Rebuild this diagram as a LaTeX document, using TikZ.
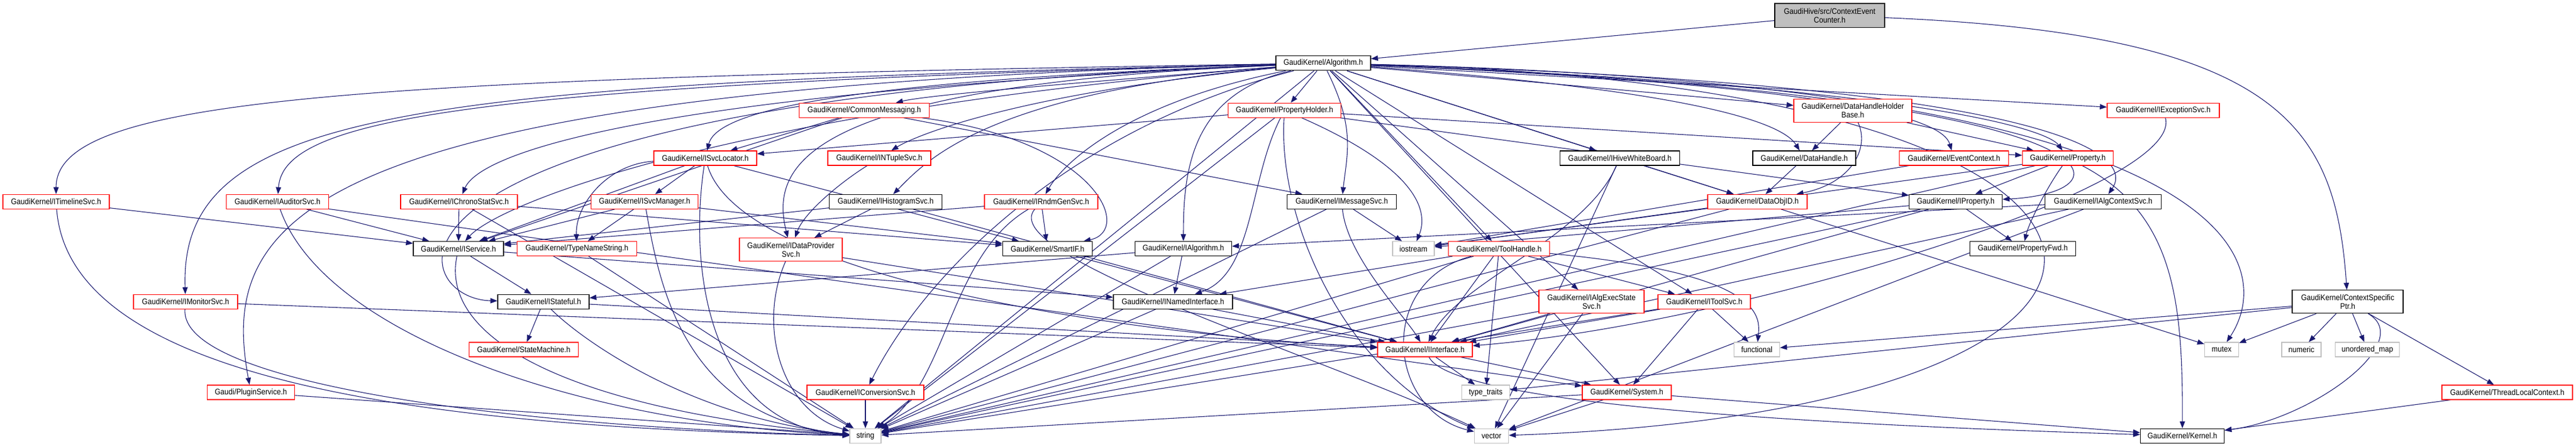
\documentclass[tikz,border=0pt]{standalone}
\usepackage{fontspec}
\setmainfont{Liberation Sans}[FakeStretch=0.9]
\usetikzlibrary{arrows.meta, backgrounds}

\begin{document}
\begin{tikzpicture}[x=1pt, y=1.478pt]

\definecolor{edgecolor}{rgb}{0.1, 0.1, 0.44}
\definecolor{truncred}{rgb}{1, 0, 0}
\definecolor{stdgray}{rgb}{0.75, 0.75, 0.75}

\tikzstyle{hdr} = [rectangle, draw=black, line width=1.2pt, fill=white, minimum height=25pt, inner xsep=2pt, inner ysep=1pt, align=center, font=\fontsize{14}{15}\selectfont]
\tikzstyle{trunc} = [hdr, draw=truncred]
\tikzstyle{stdhdr} = [hdr, draw=stdgray]
\tikzstyle{rootnode} = [hdr, fill=stdgray, minimum height=41pt]
\tikzstyle{twoline} = [minimum height=40pt]
\tikzstyle{arrow} = [-{Triangle[length=12pt, width=9pt]}, line width=1.1pt, draw=edgecolor]

\useasboundingbox (0,0) rectangle (4456,-523);

\node[rootnode, minimum width=190pt] (root) at (3165,-18) {GaudiHive/src/ContextEvent\\Counter.h};
\node[hdr, minimum width=164pt] (alg) at (2289,-74) {GaudiKernel/Algorithm.h};
\node[hdr, twoline, minimum width=192pt] (ctxptr) at (4061,-353) {GaudiKernel/ContextSpecific\\Ptr.h};

\node[trunc, minimum width=225pt] (cmsg) at (1495,-129) {GaudiKernel/CommonMessaging.h};
\node[trunc, minimum width=195pt] (propholder) at (2222,-129) {GaudiKernel/PropertyHolder.h};
\node[trunc, twoline, minimum width=204pt] (dhhbase) at (3205,-129.5) {GaudiKernel/DataHandleHolder\\Base.h};
\node[trunc, minimum width=194pt] (excsvc) at (3742,-129) {GaudiKernel/IExceptionSvc.h};

\node[trunc, minimum width=178pt] (svcloc) at (1220,-185) {GaudiKernel/ISvcLocator.h};
\node[trunc, minimum width=178pt] (ntuple) at (1521,-185) {GaudiKernel/INTupleSvc.h};
\node[hdr, minimum width=207pt] (hivewb) at (2802,-185) {GaudiKernel/IHiveWhiteBoard.h};
\node[hdr, minimum width=178pt] (dhandle) at (3121,-185) {GaudiKernel/DataHandle.h};
\node[trunc, minimum width=189pt] (evctx) at (3380,-185) {GaudiKernel/EventContext.h};
\node[trunc, minimum width=157pt] (prop) at (3577,-185) {GaudiKernel/Property.h};

\node[trunc, minimum width=184pt] (timeline) at (97,-236) {GaudiKernel/ITimelineSvc.h};
\node[trunc, minimum width=177pt] (auditor) at (480,-236) {GaudiKernel/IAuditorSvc.h};
\node[trunc, minimum width=202pt] (chrono) at (794,-236) {GaudiKernel/IChronoStatSvc.h};
\node[trunc, minimum width=185pt] (svcmgr) at (1115,-236) {GaudiKernel/ISvcManager.h};
\node[hdr, minimum width=195pt] (histo) at (1532,-236) {GaudiKernel/IHistogramSvc.h};
\node[trunc, minimum width=196pt] (rndm) at (1801,-236) {GaudiKernel/IRndmGenSvc.h};
\node[hdr, minimum width=189pt] (imsg) at (2321,-236) {GaudiKernel/IMessageSvc.h};
\node[trunc, minimum width=172pt] (dataobjid) at (3040,-236) {GaudiKernel/DataObjID.h};
\node[hdr, minimum width=161pt] (iprop) at (3383,-236) {GaudiKernel/IProperty.h};
\node[hdr, minimum width=201pt] (algctx) at (3638,-236) {GaudiKernel/IAlgContextSvc.h};

\node[hdr, minimum width=156pt] (iservice) at (793,-291) {GaudiKernel/IService.h};
\node[trunc, minimum width=207pt] (typename) at (998,-291) {GaudiKernel/TypeNameString.h};
\node[trunc, twoline, minimum width=178pt] (datasvc) at (1368,-292) {GaudiKernel/IDataProvider\\Svc.h};
\node[hdr, minimum width=155pt] (smartif) at (1812,-291) {GaudiKernel/SmartIF.h};
\node[hdr, minimum width=167pt] (ialg) at (2047,-291) {GaudiKernel/IAlgorithm.h};
\node[stdhdr, minimum width=72pt] (iostream) at (2445,-291) {iostream};
\node[trunc, minimum width=175pt] (toolhandle) at (2593,-291) {GaudiKernel/ToolHandle.h};
\node[hdr, minimum width=183pt] (propfwd) at (3499,-291) {GaudiKernel/PropertyFwd.h};

\node[trunc, minimum width=180pt] (monitor) at (321,-353) {GaudiKernel/IMonitorSvc.h};
\node[hdr, minimum width=158pt] (stateful) at (940,-353) {GaudiKernel/IStateful.h};
\node[hdr, minimum width=206pt] (named) at (2029,-353) {GaudiKernel/INamedInterface.h};
\node[trunc, twoline, minimum width=182pt] (execstate) at (2753,-353) {GaudiKernel/IAlgExecState\\Svc.h};
\node[trunc, minimum width=160pt] (toolsvc) at (2948,-353) {GaudiKernel/IToolSvc.h};

\node[trunc, minimum width=189pt] (statemach) at (906,-409) {GaudiKernel/StateMachine.h};
\node[trunc, minimum width=164pt] (iinterface) at (2465,-409) {GaudiKernel/IInterface.h};
\node[stdhdr, minimum width=79pt] (functional) at (3039,-409) {functional};
\node[stdhdr, minimum width=59pt] (mutex) at (3843,-409) {mutex};
\node[stdhdr, minimum width=68pt] (numeric) at (3981,-409) {numeric};
\node[stdhdr, minimum width=111pt] (umap) at (4095,-409) {unordered\_map};

\node[trunc, minimum width=151pt] (plugin) at (434,-459) {Gaudi/PluginService.h};
\node[trunc, minimum width=202pt] (convsvc) at (1497,-459) {GaudiKernel/IConversionSvc.h};
\node[stdhdr, minimum width=83pt] (typetraits) at (2570,-459) {type\_traits};
\node[trunc, minimum width=154pt] (system) at (2814,-459) {GaudiKernel/System.h};
\node[trunc, minimum width=226pt] (tlctx) at (4337,-459) {GaudiKernel/ThreadLocalContext.h};

\node[stdhdr, minimum width=54pt] (string) at (1497,-510) {string};
\node[stdhdr, minimum width=59pt] (vector) at (2580,-510) {vector};
\node[hdr, minimum width=145pt] (kernel) at (3775,-510) {GaudiKernel/Kernel.h};

\begin{scope}[on background layer]
\draw[arrow] (root) -- (alg);
\draw[arrow] (root) .. controls (3950,-40) and (4040,-150) .. (ctxptr);

\draw[arrow] (alg) .. controls (600,-92) and (97,-115) .. (timeline);
\draw[arrow] (alg) .. controls (700,-98) and (310,-130) .. (monitor);
\draw[arrow] (alg) .. controls (500,-104) and (380,-260) .. (plugin);
\draw[arrow] (alg) .. controls (800,-100) and (490,-140) .. (auditor);
\draw[arrow] (alg) .. controls (1100,-110) and (830,-180) .. (chrono);
\draw[arrow] (alg) .. controls (1250,-130) and (860,-240) .. (iservice);
\draw[arrow] (alg) .. controls (560,-118) and (700,-350) .. (stateful);
\draw[arrow] (alg) .. controls (1450,-95) and (1240,-130) .. (svcloc);
\draw[arrow] (alg) .. controls (1800,-100) and (1600,-112) .. (cmsg);
\draw[arrow] (alg) .. controls (1750,-110) and (1580,-160) .. (ntuple);
\draw[arrow] (alg) .. controls (1700,-110) and (1600,-190) .. (histo);
\draw[arrow] (alg) .. controls (1400,-100) and (1330,-190) .. (datasvc);
\draw[arrow] (alg) .. controls (1850,-150) and (1600,-320) .. (convsvc);
\draw[arrow] (alg) .. controls (1950,-120) and (1840,-190) .. (rndm);
\draw[arrow] (alg) .. controls (2060,-110) and (2047,-200) .. (ialg);
\draw[arrow] (alg) -- (propholder);
\draw[arrow] (alg) .. controls (2345,-150) and (2330,-180) .. (imsg);
\draw[arrow] (alg) -- (toolhandle);
\draw[arrow] (alg) -- (execstate);
\draw[arrow] (alg) -- (toolsvc);
\draw[arrow] (alg) -- (hivewb);
\draw[arrow] (alg) .. controls (2900,-105) and (3080,-140) .. (dhandle);
\draw[arrow] (alg) -- (dhhbase);
\draw[arrow] (alg) -- (dataobjid);
\draw[arrow] (alg) .. controls (3200,-100) and (3360,-140) .. (evctx);
\draw[arrow] (alg) .. controls (3300,-100) and (3540,-150) .. (prop);
\draw[arrow] (alg) .. controls (3700,-110) and (3700,-225) .. (iprop);
\draw[arrow] (alg) .. controls (3600,-100) and (3690,-185) .. (algctx);
\draw[arrow] (alg) -- (excsvc);
\draw[arrow] (alg) .. controls (3930,-100) and (3930,-320) .. (mutex);
\draw[arrow] (alg) .. controls (3880,-100) and (3880,-480) .. (vector);
\draw[arrow] (alg) -- (string);
\draw[arrow] (alg) -- (system);

\draw[arrow] (ctxptr) -- (functional);
\draw[arrow] (ctxptr) -- (mutex);
\draw[arrow] (ctxptr) -- (numeric);
\draw[arrow] (ctxptr) -- (umap);
\draw[arrow] (ctxptr) -- (typetraits);
\draw[arrow] (ctxptr) -- (tlctx);
\draw[arrow] (ctxptr) .. controls (4180,-400) and (4000,-490) .. (kernel);
\draw[arrow] (tlctx) -- (kernel);

\draw[arrow] (cmsg) -- (svcloc);
\draw[arrow] (cmsg) -- (iservice);
\draw[arrow] (cmsg) -- (imsg);
\draw[arrow] (cmsg) .. controls (1900,-165) and (1960,-270) .. (smartif);

\draw[arrow] (svcloc) -- (svcmgr);
\draw[arrow] (svcloc) .. controls (1050,-192) and (995,-240) .. (typename);
\draw[arrow] (svcloc) -- (iservice);
\draw[arrow] (svcloc) -- (smartif);
\draw[arrow] (svcloc) .. controls (1190,-320) and (1230,-500) .. (string);
\draw[arrow] (svcloc) .. controls (1280,-320) and (1900,-390) .. (iinterface);
\draw[arrow] (svcmgr) -- (iservice);
\draw[arrow] (svcmgr) -- (typename);
\draw[arrow] (svcmgr) -- (smartif);
\draw[arrow] (svcmgr) .. controls (1140,-330) and (1180,-490) .. (string);

\draw[arrow] (timeline) -- (iservice);
\draw[arrow] (timeline) .. controls (120,-440) and (700,-500) .. (string);
\draw[arrow] (auditor) -- (iservice);
\draw[arrow] (auditor) .. controls (560,-390) and (1000,-495) .. (string);
\draw[arrow] (auditor) -- (system);
\draw[arrow] (monitor) -- (iinterface);
\draw[arrow] (monitor) .. controls (310,-450) and (900,-500) .. (string);
\draw[arrow] (plugin) -- (string);
\draw[arrow] (chrono) -- (iservice);
\draw[arrow] (chrono) -- (smartif);
\draw[arrow] (chrono) -- (string);
\draw[arrow] (iservice) -- (stateful);
\draw[arrow] (iservice) -- (named);
\draw[arrow] (iservice) .. controls (760,-400) and (1000,-480) .. (string);
\draw[arrow] (stateful) -- (statemach);
\draw[arrow] (stateful) -- (iinterface);
\draw[arrow] (stateful) .. controls (1010,-400) and (1200,-490) .. (string);
\draw[arrow] (typename) -- (string);
\draw[arrow] (convsvc) -- (string);

\draw[arrow] (ntuple) .. controls (1450,-215) and (1390,-250) .. (datasvc);
\draw[arrow] (histo) -- (datasvc);
\draw[arrow] (histo) -- (iservice);
\draw[arrow] (histo) -- (iinterface);
\draw[arrow] (rndm) -- (iservice);
\draw[arrow] (rndm) -- (smartif);
\draw[arrow] (rndm) .. controls (1640,-300) and (1640,-450) .. (string);
\draw[arrow] (rndm) .. controls (1720,-300) and (2300,-420) .. (vector);
\draw[arrow] (datasvc) .. controls (1310,-380) and (1350,-480) .. (string);
\draw[arrow] (datasvc) -- (iinterface);
\draw[arrow] (smartif) -- (iinterface);
\draw[arrow] (ialg) -- (named);
\draw[arrow] (ialg) -- (stateful);
\draw[arrow] (ialg) -- (string);
\draw[arrow] (named) -- (iinterface);
\draw[arrow] (named) -- (string);

\draw[arrow] (propholder) -- (svcloc);
\draw[arrow] (propholder) -- (prop);
\draw[arrow] (propholder) -- (iprop);
\draw[arrow] (propholder) .. controls (2160,-210) and (2170,-320) .. (named);
\draw[arrow] (propholder) .. controls (2460,-200) and (2470,-250) .. (iostream);
\draw[arrow] (propholder) -- (string);
\draw[arrow] (propholder) .. controls (2210,-260) and (2330,-440) .. (vector);
\draw[arrow] (imsg) -- (iostream);
\draw[arrow] (imsg) .. controls (2330,-300) and (2430,-370) .. (iinterface);
\draw[arrow] (imsg) -- (string);

\draw[arrow] (toolhandle) -- (toolsvc);
\draw[arrow] (toolhandle) -- (typetraits);
\draw[arrow] (toolhandle) -- (iinterface);
\draw[arrow] (toolhandle) -- (named);
\draw[arrow] (toolhandle) .. controls (3050,-320) and (3045,-370) .. (functional);
\draw[arrow] (toolhandle) -- (string);
\draw[arrow] (toolhandle) .. controls (2380,-330) and (2400,-480) .. (vector);
\draw[arrow] (execstate) -- (iinterface);
\draw[arrow] (execstate) -- (string);
\draw[arrow] (execstate) -- (vector);
\draw[arrow] (toolsvc) -- (functional);
\draw[arrow] (toolsvc) -- (system);
\draw[arrow] (toolsvc) -- (iinterface);
\draw[arrow] (toolsvc) -- (string);
\draw[arrow] (hivewb) -- (dataobjid);
\draw[arrow] (hivewb) .. controls (2740,-280) and (2520,-330) .. (iinterface);
\draw[arrow] (hivewb) -- (vector);

\draw[arrow] (dhhbase) -- (dhandle);
\draw[arrow] (dhhbase) .. controls (3235,-175) and (3200,-215) .. (dataobjid);
\draw[arrow] (dhhbase) -- (prop);
\draw[arrow] (dhandle) -- (dataobjid);
\draw[arrow] (dataobjid) -- (iostream);
\draw[arrow] (dataobjid) -- (mutex);
\draw[arrow] (dataobjid) -- (string);
\draw[arrow] (evctx) -- (iostream);

\draw[arrow] (prop) -- (iprop);
\draw[arrow] (prop) .. controls (3540,-220) and (3510,-260) .. (propfwd);
\draw[arrow] (prop) .. controls (3760,-250) and (3776,-350) .. (kernel);
\draw[arrow] (prop) -- (iostream);
\draw[arrow] (prop) -- (string);
\draw[arrow] (iprop) -- (propfwd);
\draw[arrow] (iprop) -- (iinterface);
\draw[arrow] (iprop) -- (iostream);
\draw[arrow] (iprop) -- (string);
\draw[arrow] (algctx) -- (ialg);
\draw[arrow] (algctx) -- (iinterface);
\draw[arrow] (algctx) -- (vector);
\draw[arrow] (excsvc) .. controls (3780,-220) and (3000,-380) .. (iinterface);

\draw[arrow] (iinterface) -- (typetraits);
\draw[arrow] (iinterface) -- (system);
\draw[arrow] (iinterface) .. controls (2520,-480) and (3300,-500) .. (kernel);
\draw[arrow] (system) -- (kernel);
\draw[arrow] (system) -- (string);
\draw[arrow] (system) -- (vector);
\end{scope}

\end{tikzpicture}
\end{document}
